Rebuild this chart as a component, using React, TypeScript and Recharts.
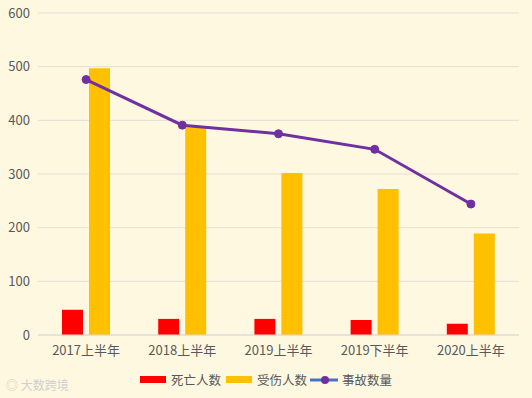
import React from 'react';
import { ComposedChart, Bar, Line, XAxis, YAxis, CartesianGrid, Legend } from 'recharts';

const periods = ['2017上半年', '2018上半年', '2019上半年', '2019下半年', '2020上半年'];
const deaths = [47, 30, 30, 28, 21];
const injured = [497, 387, 302, 272, 189];
const accidents = [476, 391, 375, 346, 244];
const yTicks = [0, 100, 200, 300, 400, 500, 600];

const data = periods.map((p, i) => ({
  name: p,
  deaths: deaths[i],
  injured: injured[i],
  accidents: accidents[i],
}));

const FONT = '"Noto Sans CJK SC", "Noto Sans", sans-serif';

const LegendContent = () => (
  <div style={{ display: 'flex', justifyContent: 'center', alignItems: 'center', fontFamily: FONT, fontSize: 12.5, color: '#595959', marginTop: 5, width: 532 }}>
    <span style={{ display: 'inline-block', width: 26, height: 7, background: '#FF0000', marginRight: 5 }} />
    <span style={{ marginRight: 5 }}>死亡人数</span>
    <span style={{ display: 'inline-block', width: 26, height: 7, background: '#FFC000', marginRight: 5 }} />
    <span style={{ marginRight: 3 }}>受伤人数</span>
    <svg width={28} height={10} style={{ marginRight: 4 }}>
      <line x1={0} y1={5} x2={28} y2={5} stroke="#4472C4" strokeWidth={3} />
      <circle cx={15} cy={5} r={4} fill="#7030A0" />
    </svg>
    <span>事故数量</span>
  </div>
);

const App: React.FC = () => {
  return (
    <div style={{ position: 'absolute', left: 0, top: 0, width: 532, height: 398, background: '#FFF8E1' }}>
      <ComposedChart
        width={532}
        height={398}
        data={data}
        margin={{ top: 13, right: 13, left: 0, bottom: 5 }}
        barSize={21}
        barGap={6}
      >
        <CartesianGrid vertical={false} stroke="#E3DDD8" />
        <XAxis
          dataKey="name"
          height={30}
          tickLine={false}
          axisLine={{ stroke: '#D9D9D9' }}
          tick={{ fill: '#595959', fontSize: 13, fontFamily: FONT, dy: 3 }}
        />
        <YAxis
          width={38}
          domain={[0, 600]}
          ticks={yTicks}
          tickLine={false}
          axisLine={false}
          tick={{ fill: '#595959', fontSize: 13, fontFamily: FONT }}
        />
        <Legend
          verticalAlign="bottom"
          height={28}
          wrapperStyle={{ left: 0, width: 532 }}
          content={<LegendContent />}
        />
        <Bar dataKey="deaths" fill="#FF0000" isAnimationActive={false} />
        <Bar dataKey="injured" fill="#FFC000" isAnimationActive={false} />
        <Line
          dataKey="accidents"
          stroke="#7030A0"
          strokeWidth={3}
          dot={{ r: 4, fill: '#7030A0', stroke: '#7030A0', strokeWidth: 1 }}
          isAnimationActive={false}
        />
      </ComposedChart>
      <div style={{ position: 'absolute', left: 6, top: 376, fontFamily: FONT, fontSize: 12, color: '#CFCFCF' }}>
        ◎ 大数跨境
      </div>
    </div>
  );
};

export default App;
